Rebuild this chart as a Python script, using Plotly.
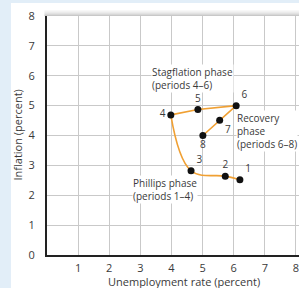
import plotly.graph_objects as go

# Data
periods = ["1", "2", "3", "4", "5", "6", "7", "8"]
unemployment = [6.2, 5.73, 4.63, 3.98, 4.85, 6.08, 5.55, 5.01]
inflation = [2.52, 2.64, 2.82, 4.69, 4.87, 5.0, 4.51, 4.0]
label_pos = ["top right", "top center", "top right", "middle left",
             "top center", "top right", "bottom right", "bottom center"]

x_ticks = [1, 2, 3, 4, 5, 6, 7, 8]
y_ticks = [0, 1, 2, 3, 4, 5, 6, 7, 8]

phase_texts = ["Stagflation phase<br>(periods 4\u20136)",
               "Recovery<br>phase<br>(periods 6\u20138)",
               "Phillips phase<br>(periods 1\u20134)"]
phase_x = [3.35, 6.08, 2.72]
phase_y = [5.92, 4.15, 2.2]

ORANGE = "#f0a033"
TXT = "#3a3a3a"
FONT = "Open Sans"
BLUE = "#e2eef8"

fig = go.Figure()

# Phillips phase: smooth curve through periods 1-4
fig.add_trace(go.Scatter(x=unemployment[:4], y=inflation[:4], mode="lines",
                         line=dict(color=ORANGE, width=1.6, shape="spline", smoothing=1.1),
                         hoverinfo="skip", showlegend=False))
# Stagflation + recovery: periods 4-8
fig.add_trace(go.Scatter(x=unemployment[3:], y=inflation[3:], mode="lines",
                         line=dict(color=ORANGE, width=1.6),
                         hoverinfo="skip", showlegend=False))
# Points with period numbers
fig.add_trace(go.Scatter(x=unemployment, y=inflation, mode="markers+text",
                         marker=dict(color="#111111", size=7),
                         text=periods, textposition=label_pos,
                         textfont=dict(family=FONT, size=10, color=TXT),
                         showlegend=False))

for t, xx, yy in zip(phase_texts, phase_x, phase_y):
    fig.add_annotation(x=xx, y=yy, text=t, showarrow=False, xanchor="left",
                       yanchor="middle", align="left", bgcolor="white",
                       borderpad=0,
                       font=dict(family=FONT, size=10, color=TXT))

# axis titles
fig.add_annotation(xref="paper", yref="paper", x=0.544, y=-0.112,
                   text="Unemployment rate (percent)", showarrow=False,
                   xanchor="center", yanchor="middle",
                   font=dict(family=FONT, size=11, color=TXT))
fig.add_annotation(xref="paper", yref="paper", x=-0.119, y=0.5,
                   text="Inflation (percent)", showarrow=False, textangle=-90,
                   xanchor="center", yanchor="middle",
                   font=dict(family=FONT, size=11, color=TXT))

# background strips
fig.add_shape(type="rect", xref="paper", yref="paper", x0=-0.2, x1=-0.143,
              y0=-0.2, y1=1.1, fillcolor=BLUE, line_width=0, layer="below")
fig.add_shape(type="rect", xref="paper", yref="paper", x0=-0.2, x1=1.1,
              y0=1.054, y1=1.1, fillcolor=BLUE, line_width=0, layer="below")
# top shadow
for i, op in enumerate([0.05, 0.09, 0.14, 0.2, 0.28, 0.38]):
    y0 = 1.0 + (6 - i) * 0.0042
    fig.add_shape(type="rect", xref="paper", yref="paper", x0=-0.01, x1=1.1,
                  y0=y0 - 0.0042, y1=y0, fillcolor="#6f6f6f", opacity=op,
                  line_width=0, layer="above")

fig.update_layout(
    width=299, height=288,
    margin=dict(l=47, r=0, t=16, b=33),
    paper_bgcolor="white", plot_bgcolor="white",
    font=dict(family=FONT, size=11, color=TXT),
    xaxis=dict(range=[0, 8.1], tickvals=x_ticks, showgrid=True,
               gridcolor="#c9c9c9", gridwidth=1, zeroline=False,
               showline=True, linecolor="#222222", linewidth=2,
               ticks="", ticklabelstandoff=2, automargin=False,
               ticklabeloverflow="allow",
               tickfont=dict(family=FONT, size=11, color=TXT)),
    yaxis=dict(range=[0, 8], tickvals=y_ticks, showgrid=True,
               gridcolor="#c9c9c9", gridwidth=1, zeroline=False,
               showline=True, linecolor="#222222", linewidth=2,
               ticks="", ticklabelstandoff=8, automargin=False,
               tickfont=dict(family=FONT, size=11, color=TXT)),
)

fig.write_html("out.html", config={"displayModeBar": False},
               post_script="document.body.style.margin='0';document.body.style.overflow='hidden';")
